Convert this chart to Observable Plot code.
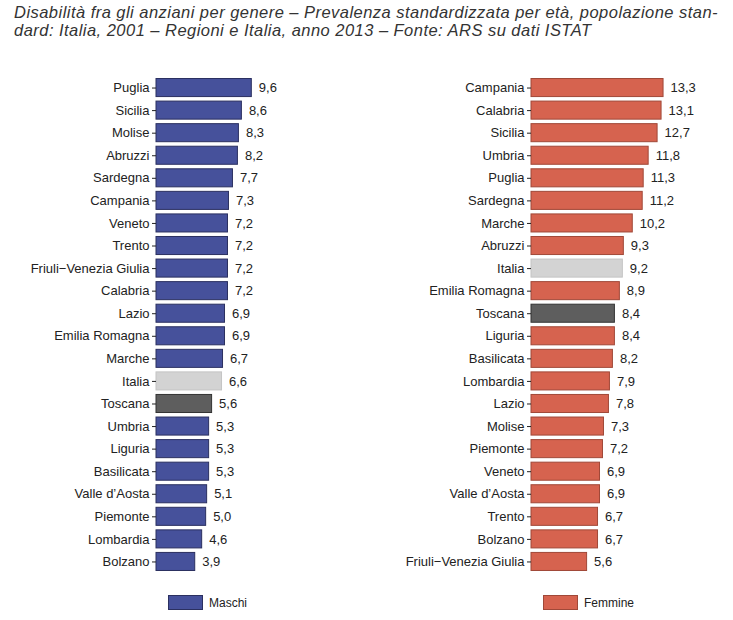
<!DOCTYPE html>
<html>
<head>
<meta charset="utf-8">
<script src="https://cdn.jsdelivr.net/npm/d3@7"></script>
<script src="https://cdn.jsdelivr.net/npm/@observablehq/plot@0.6"></script>
<style>
  html, body { margin: 0; padding: 0; background: #fff; }
  #wrap { position: relative; width: 733px; height: 620px; font-family: "Liberation Sans", Arial, sans-serif; color: #222; }
  #title { position: absolute; left: 14px; top: 3px; width: 719px; font-family: "Liberation Sans", Arial, sans-serif; font-style: italic; font-size: 16.5px; line-height: 18px; color: #333; white-space: nowrap; }
  #title span { display: inline-block; }
  .panel { position: absolute; top: 60px; }
  .legend { position: absolute; top: 595px; font-size: 12px; display: flex; align-items: center; }
  .legend .sw { width: 33px; height: 13px; margin-right: 6px; }
</style>
</head>
<body>
<div id="wrap">
  <div id="title"><span id="t1">Disabilità fra gli anziani per genere – Prevalenza standardizzata per età, popolazione stan-</span><br><span id="t2">dard: Italia, 2001 – Regioni e Italia, anno 2013 – Fonte: ARS su dati ISTAT</span></div>
  <div id="left" class="panel" style="left:0px"></div>
  <div id="right" class="panel" style="left:375px"></div>
  <div class="legend" style="left:168px"><div class="sw" style="background:#46519b;border:1px solid #2b3060"></div>Maschi</div>
  <div class="legend" style="left:543px"><div class="sw" style="background:#d6634f;border:1px solid #a04838"></div>Femmine</div>
</div>
<script>
const maschiRegions = ["Puglia","Sicilia","Molise","Abruzzi","Sardegna","Campania","Veneto","Trento","Friuli\u2212Venezia Giulia","Calabria","Lazio","Emilia Romagna","Marche","Italia","Toscana","Umbria","Liguria","Basilicata","Valle d\u2019Aosta","Piemonte","Lombardia","Bolzano"];
const maschiValues = [9.6,8.6,8.3,8.2,7.7,7.3,7.2,7.2,7.2,7.2,6.9,6.9,6.7,6.6,5.6,5.3,5.3,5.3,5.1,5.0,4.6,3.9];
const femmineRegions = ["Campania","Calabria","Sicilia","Umbria","Puglia","Sardegna","Marche","Abruzzi","Italia","Emilia Romagna","Toscana","Liguria","Basilicata","Lombardia","Lazio","Molise","Piemonte","Veneto","Valle d\u2019Aosta","Trento","Bolzano","Friuli\u2212Venezia Giulia"];
const femmineValues = [13.3,13.1,12.7,11.8,11.3,11.2,10.2,9.3,9.2,8.9,8.4,8.4,8.2,7.9,7.8,7.3,7.2,6.9,6.9,6.7,6.7,5.6];

const seriesColors = {Maschi: ["#46519b", "#2b3060"], Femmine: ["#d6634f", "#a04838"]};
const specialColors = {Italia: ["#d3d3d3", "#c4c4c4"], Toscana: ["#5e5e5e", "#333333"]};

function panel(regions, values, series) {
  const data = regions.map((r, i) => ({region: r, value: values[i]}));
  const fillOf = d => (specialColors[d.region] || seriesColors[series])[0];
  const strokeOf = d => (specialColors[d.region] || seriesColors[series])[1];
  return Plot.plot({
    width: 358,
    height: 525,
    marginLeft: 156,
    marginRight: 63,
    marginTop: 14,
    marginBottom: 10,
    style: {fontFamily: "'Liberation Sans', Arial, sans-serif", fontSize: "13px", color: "#222", background: "#fff"},
    x: {domain: [0, 14], axis: null},
    y: {domain: regions, padding: 0.2, round: false, label: null},
    marks: [
      Plot.barX(data, {x: "value", y: "region", fill: fillOf, stroke: strokeOf, strokeWidth: 1}),
      Plot.text(data, {x: "value", y: "region", text: d => d.value.toFixed(1).replace(".", ","), textAnchor: "start", dx: 7, fill: "#222", fontSize: 13}),
      Plot.axisY({tickSize: 4, tickPadding: 3, fontSize: 13, label: null})
    ]
  });
}

document.getElementById("left").appendChild(panel(maschiRegions, maschiValues, "Maschi"));
document.getElementById("right").appendChild(panel(femmineRegions, femmineValues, "Femmine"));

// stretch title line 1 to the reference's line width using letter spacing
const t1 = document.getElementById("t1"), t2 = document.getElementById("t2");
const target = 704;
const w = t1.getBoundingClientRect().width;
const ls = (target - w) / t1.textContent.length;
t1.style.letterSpacing = ls + "px";
t2.style.letterSpacing = ls + "px";
</script>
</body>
</html>
